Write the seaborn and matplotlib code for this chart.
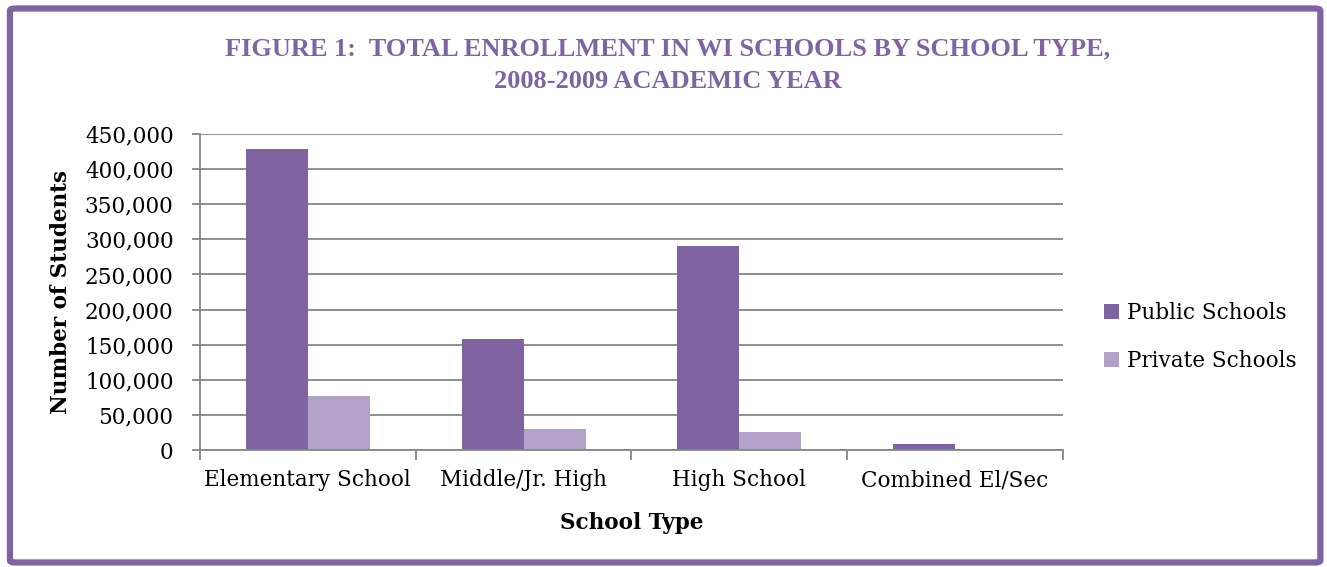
import matplotlib
matplotlib.use("Agg")
import matplotlib.pyplot as plt
import matplotlib.ticker as mticker
from matplotlib.patches import FancyBboxPatch
import numpy as np
import pandas as pd
import seaborn as sns

categories = ["Elementary School", "Middle/Jr. High", "High School", "Combined El/Sec"]
public_schools = [428000, 158000, 291000, 9000]
private_schools = [77000, 30000, 25000, 0]
series_names = ["Public Schools", "Private Schools"]
y_ticks = [0, 50000, 100000, 150000, 200000, 250000, 300000, 350000, 400000, 450000]

df = pd.DataFrame({
    "School Type": categories * 2,
    "Students": public_schools + private_schools,
    "Series": [series_names[0]] * 4 + [series_names[1]] * 4,
})

sns.set_style("white")
plt.rcParams["font.family"] = ["DejaVu Serif"]
plt.rcParams["text.color"] = "black"
plt.rcParams["axes.labelcolor"] = "black"
plt.rcParams["xtick.labelcolor"] = "black"
plt.rcParams["ytick.labelcolor"] = "black"

purple = "#8064A2"
light_purple = "#B2A2C7"
grid_gray = "#868686"

fig = plt.figure(figsize=(13.27, 5.67), dpi=100)
ax = fig.add_axes([0.1507, 0.2063, 0.6503, 0.5574])

sns.barplot(data=df, x="School Type", y="Students", hue="Series",
            palette=[purple, light_purple], width=0.575, gap=0,
            saturation=1, ax=ax, legend=True, linewidth=0)

ax.set_ylim(0, 450000)
ax.set_xlim(-0.5, 3.5)
ax.set_yticks(y_ticks)
ax.yaxis.set_major_formatter(mticker.FuncFormatter(lambda v, p: f"{v:,.0f}"))
ax.yaxis.grid(True, color=grid_gray, linewidth=1.3)
ax.set_axisbelow(True)
for s in ["top", "right"]:
    ax.spines[s].set_visible(False)
for s in ["left", "bottom"]:
    ax.spines[s].set_color(grid_gray)
    ax.spines[s].set_linewidth(1.3)

ax.tick_params(axis="y", which="major", left=True, length=6, width=1.3,
               color=grid_gray, labelsize=15.5, pad=13)
ax.tick_params(axis="x", which="major", length=0, labelsize=15.5, pad=14)
ax.set_xticks(np.arange(-0.5, 4, 1), minor=True)
ax.tick_params(axis="x", which="minor", bottom=True, length=7, width=1.3,
               color=grid_gray)

ax.set_xlabel("School Type", fontsize=15.5, fontweight="bold", labelpad=15)
ax.set_ylabel("Number of Students", fontsize=15.5, fontweight="bold", labelpad=9)

ax.get_legend().remove()
handles, labels = ax.get_legend_handles_labels()
fig.legend(handles[:2], labels[:2], loc="center left",
           bbox_to_anchor=(0.832, 0.405), frameon=False, fontsize=15.5,
           handlelength=0.7, handleheight=0.7, handletextpad=0.35,
           labelspacing=1.2, borderpad=0, borderaxespad=0)

fig.text(0.503, 0.8845, "FIGURE 1:  TOTAL ENROLLMENT IN WI SCHOOLS BY SCHOOL TYPE,\n2008-2009 ACADEMIC YEAR",
         ha="center", va="center", fontsize=19, fontweight="bold", color=purple,
         linespacing=1.55, family="Liberation Serif")

border = FancyBboxPatch((0.0075, 0.008), 0.9875, 0.977,
                        boxstyle="round,pad=0,rounding_size=0.004",
                        transform=fig.transFigure, fill=False,
                        edgecolor=purple, linewidth=4.5)
fig.patches.append(border)

fig.savefig("out.png", dpi=100)
